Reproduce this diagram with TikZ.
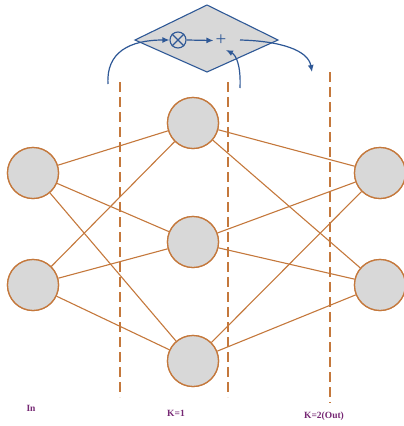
\documentclass[tikz,border=0pt]{standalone}
\usepackage{fontspec}
\setmainfont{Liberation Serif}
\usetikzlibrary{arrows.meta}
\definecolor{wire}{RGB}{196,120,60}
\definecolor{cellfill}{RGB}{216,216,216}
\definecolor{flow}{RGB}{46,88,150}
\definecolor{tag}{RGB}{118,40,116}
\begin{document}
\begin{tikzpicture}[x=1pt,y=-1pt,
  neuron/.style={circle,draw=wire,fill=cellfill,line width=1.3pt,minimum size=51pt,inner sep=0pt},
  link/.style={draw=wire,line width=1.1pt},
  divider/.style={draw=wire,line width=1.1pt,dash pattern=on 10pt off 5pt},
  opbox/.style={draw=flow,fill=cellfill,line width=1.1pt},
  flowarrow/.style={draw=flow,line width=1.2pt,-{Latex[length=7pt,width=6pt]}},
  layertag/.style={text=tag,font=\bfseries\fontsize{9.5}{10}\selectfont,inner sep=0pt}]
\useasboundingbox (0,0) rectangle (404,426);

% layer dividers
\draw[divider] (120,82) -- (120,397);
\draw[divider] (228,82) -- (228,397);
\draw[divider] (330,72) -- (330,403);

% neurons
\node[neuron] (i1) at (33,173) {};
\node[neuron] (i2) at (33,285) {};
\node[neuron] (h1) at (193,123) {};
\node[neuron] (h2) at (193,242) {};
\node[neuron] (h3) at (193,361) {};
\node[neuron] (o1) at (380,173) {};
\node[neuron] (o2) at (380,285) {};

% full connections
\foreach \a in {i1,i2}
  \foreach \b in {h1,h2,h3}
    \draw[link] (\a) -- (\b);
\foreach \a in {h1,h2,h3}
  \foreach \b in {o1,o2}
    \draw[link] (\a) -- (\b);

% redraw neurons over the link ends
\foreach \p in {(33,173),(33,285),(193,123),(193,242),(193,361),(380,173),(380,285)}
  \node[neuron] at \p {};

% operation block
\draw[opbox] (135,40) -- (207,5) -- (278,40) -- (207,72) -- cycle;
\node[circle,draw=flow,line width=1.1pt,minimum size=16pt,inner sep=0pt] (mul) at (178,40) {};
\draw[flow,line width=1.1pt] (mul.north west) -- (mul.south east) (mul.north east) -- (mul.south west);
\node[text=flow,font=\fontsize{19}{19}\selectfont,inner sep=0pt] (add) at (221,40.5) {+};

\coordinate (inA) at (108,84);
\coordinate (inB) at (240,88);
\coordinate (outA) at (240,40);
\coordinate (outB) at (312,72);

\draw[flowarrow] (inA) .. controls (106,52) and (130,40) .. (mul.west);
\draw[flowarrow] (mul.east) -- ([xshift=-2pt]add.west);
\draw[flowarrow] (inB) .. controls (241,65) and (236,55) .. (226,50);
\draw[flowarrow] (outA) .. controls (280,41) and (308,50) .. (outB);

% layer labels
\node[layertag] (lin) at (31,408) {In};
\node[layertag] (lk1) at (176,413) {K=1};
\node[layertag] (lk2) at (324,416) {K=2(Out)};
\end{tikzpicture}
\end{document}
